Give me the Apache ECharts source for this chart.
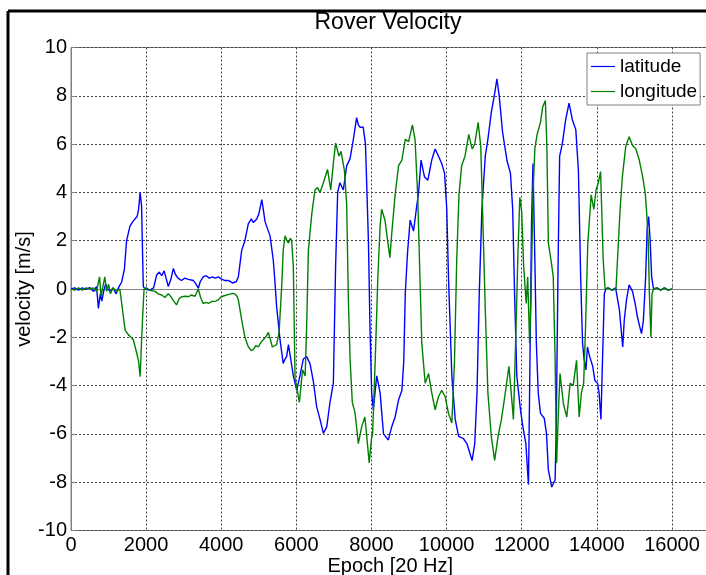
<!DOCTYPE html>
<html>
<head>
<meta charset="utf-8">
<script src="https://cdn.jsdelivr.net/npm/echarts@6/dist/echarts.min.js"></script>
<style>html,body{margin:0;padding:0;background:#fff;}#c{width:706px;height:575px;}</style>
</head>
<body>
<div id="c"></div>
<script>
var xTicks = [0, 2000, 4000, 6000, 8000, 10000, 12000, 14000, 16000];
var yTicks = [-10, -8, -6, -4, -2, 0, 2, 4, 6, 8, 10];
var seriesNames = ['latitude', 'longitude'];

var latX = [0,100,200,300,400,500,600,680,730,780,820,870,920,980,1050,1120,1200,1280,1350,1420,1480,1570,1650,1700,1760,1800,1840,1880,1905,1925,1980,2100,2200,2280,2350,2415,2480,2540,2590,2660,2725,2780,2850,2940,3030,3125,3260,3330,3390,3440,3520,3600,3680,3760,3840,3920,4000,4100,4200,4300,4400,4455,4545,4630,4720,4800,4855,4945,5000,5080,5120,5165,5230,5300,5385,5430,5475,5565,5650,5700,5740,5790,5830,5920,6010,6095,6185,6275,6365,6450,6540,6630,6720,6810,6895,6985,7045,7100,7160,7250,7340,7430,7515,7605,7650,7695,7780,7840,7880,7920,7960,8005,8050,8140,8230,8320,8450,8540,8630,8720,8810,8860,8900,8960,9030,9120,9210,9250,9320,9410,9500,9605,9695,9785,9870,9945,10005,10050,10140,10230,10320,10450,10540,10680,10750,10810,10870,10940,11030,11100,11190,11280,11340,11400,11490,11610,11700,11760,11810,11870,11960,12020,12110,12180,12210,12260,12300,12350,12390,12440,12500,12600,12660,12710,12800,12890,12920,12970,13010,13080,13170,13260,13350,13440,13510,13570,13620,13660,13710,13750,13810,13890,13950,14020,14060,14110,14150,14200,14240,14300,14400,14500,14550,14600,14640,14690,14730,14790,14860,14950,15020,15080,15140,15190,15240,15300,15340,15380,15420,15460,15510,15600,15700,15800,15900,16000];
var latY = [0,0.05,-0.05,0.05,-0.02,0.06,-0.1,0.1,-0.8,-0.2,-0.5,-0.1,0.2,0,-0.1,0.05,-0.2,0.1,0.3,0.8,2.0,2.6,2.8,2.85,3.0,3.3,4.0,3.4,1.5,0.1,0,-0.05,0.05,0.58,0.7,0.55,0.75,0.4,0.1,0.4,0.85,0.6,0.45,0.35,0.45,0.4,0.35,0.2,0.03,0.3,0.5,0.55,0.45,0.5,0.45,0.5,0.42,0.35,0.35,0.25,0.3,0.5,1.6,2.0,2.7,2.9,2.75,2.9,3.1,3.7,3.3,2.8,2.5,2.2,1.2,0.3,-0.73,-2.1,-3.08,-2.9,-2.8,-2.3,-2.3,-3.6,-4.2,-3.6,-2.9,-2.8,-3.1,-3.8,-4.87,-5.4,-5.98,-5.7,-4.7,-3.9,0.93,4.0,4.4,4.1,5.1,5.4,6.17,7.1,6.8,6.7,6.7,6.0,4.0,1.9,-1.56,-4.3,-5.0,-3.6,-4.3,-6.0,-6.25,-5.7,-5.3,-4.6,-4.2,-3.0,-0.2,1.5,2.85,2.4,3.5,3.9,5.34,4.65,4.5,5.34,5.8,5.5,5.2,4.8,3.3,0.5,-3.6,-5.4,-6.1,-6.2,-6.4,-7.1,-6.4,-4.3,-0.2,3.3,5.5,6.2,7.3,8.1,8.7,8.0,6.5,5.3,4.8,3.3,-0.2,-3.6,-4.9,-5.6,-6.4,-8.1,-4.3,2.6,5.2,1.2,-2.25,-4.3,-5.15,-5.35,-6.0,-7.5,-8.2,-7.9,-5.7,1.2,5.5,6.0,7.0,7.7,7.0,6.6,4.9,0.5,-2.25,-2.9,-3.35,-2.4,-2.8,-3.2,-3.8,-3.9,-4.3,-5.4,-3.0,-0.2,0,0.05,-0.05,0.05,0,-0.85,-1.55,-2.4,-1.3,-0.45,0.17,-0.1,-0.6,-1.15,-1.55,-1.85,-1.3,0.5,2.5,3.0,2.0,0.5,0,0.05,-0.05,0.05,-0.05,0];

var lonX = [0,100,200,300,400,500,600,680,760,800,850,900,950,1000,1050,1120,1200,1300,1350,1440,1530,1600,1660,1750,1800,1840,1900,1945,2000,2100,2240,2320,2415,2500,2590,2650,2715,2810,2880,2950,3050,3125,3200,3300,3390,3450,3520,3600,3660,3740,3850,3920,4000,4100,4200,4300,4360,4420,4455,4545,4630,4720,4800,4855,4920,4990,5060,5120,5200,5255,5310,5360,5420,5475,5540,5610,5650,5700,5750,5790,5840,5875,5920,5965,6025,6080,6165,6235,6280,6320,6410,6495,6560,6630,6720,6830,6915,6985,7045,7135,7190,7280,7340,7385,7430,7490,7560,7650,7740,7825,7940,8000,8030,8100,8170,8230,8270,8360,8430,8490,8540,8630,8720,8810,8900,8990,9090,9160,9230,9290,9340,9430,9520,9605,9695,9785,9870,9960,10050,10140,10210,10270,10330,10400,10490,10590,10680,10750,10840,10910,10970,11030,11100,11190,11280,11370,11460,11550,11660,11720,11780,11850,11900,11950,12000,12050,12120,12160,12210,12250,12300,12350,12410,12500,12560,12630,12670,12710,12780,12840,12890,12930,12980,13020,13110,13200,13290,13370,13460,13530,13590,13650,13700,13760,13850,13920,13980,14040,14100,14130,14170,14220,14300,14400,14510,14550,14620,14680,14770,14860,14950,15040,15130,15220,15290,15330,15370,15400,15440,15470,15510,15600,15700,15800,15900,16000];
var lonY = [0,-0.05,0.05,-0.05,0.05,0,0.05,-0.1,0.5,-0.3,0.1,0.5,-0.1,0.2,-0.2,0.05,-0.1,0,-0.6,-1.7,-1.9,-2.0,-2.1,-2.66,-3.0,-3.63,-1.4,0,0.05,-0.05,-0.1,-0.2,-0.25,-0.35,-0.2,-0.3,-0.46,-0.66,-0.4,-0.32,-0.3,-0.32,-0.25,-0.3,0,-0.35,-0.6,-0.55,-0.6,-0.52,-0.5,-0.45,-0.32,-0.27,-0.22,-0.18,-0.2,-0.3,-0.45,-1.28,-2.0,-2.39,-2.55,-2.5,-2.35,-2.4,-2.2,-2.1,-1.95,-1.8,-2.1,-2.4,-2.35,-2.3,-1.8,0.1,1.6,2.2,2.0,1.9,2.1,2.0,0.9,-3.7,-4.2,-4.7,-3.35,-3.6,-1.2,1.6,3.1,4.1,4.2,4.0,4.4,4.95,4.1,5.2,6.04,5.5,5.7,4.9,3.5,-0.45,-2.9,-4.7,-5.1,-6.4,-5.7,-5.3,-7.2,-6.2,-6.0,-2.95,0.5,2.6,3.3,2.85,2.0,1.3,2.3,3.9,5.1,5.34,6.2,6.1,6.8,6.2,3.9,0.5,-2.25,-3.9,-3.5,-4.3,-5.0,-4.45,-4.2,-4.45,-5.15,-5.55,-3.0,1.2,3.9,5.1,5.5,6.4,5.8,6.0,6.9,5.9,2.6,-0.85,-4.3,-6.1,-7.1,-6.1,-5.4,-4.45,-3.2,-4.3,-5.4,-1.5,1.5,3.8,3.2,1.0,-0.6,0.5,-2.25,-0.2,3.9,5.8,6.4,6.9,7.55,7.8,5.9,1.9,1.2,0.5,-2.95,-7.2,-5.0,-3.5,-4.75,-5.3,-3.9,-4.0,-2.95,-5.3,-4.3,-3.9,-1.55,1.9,3.9,3.3,4.1,4.4,4.86,3.3,1.2,0,0.05,-0.05,0,1.2,3.3,4.65,5.9,6.3,5.95,5.8,5.34,4.65,3.95,3.1,1.9,-0.2,-2.0,-0.2,0,0.05,-0.05,0.05,-0.05,0];

function pairs(xs, ys) { var out = []; for (var i = 0; i < xs.length; i++) out.push([xs[i], ys[i]]); return out; }

var FONT = 'Liberation Sans, Arial, Helvetica, sans-serif';
var chart = echarts.init(document.getElementById('c'), null, {renderer: 'canvas'});
var gridLeft = 71, gridTop = 47.5, gridW = 638.5, gridH = 483;
chart.setOption({
  animation: false,
  backgroundColor: '#fff',
  grid: {left: gridLeft, top: gridTop, width: gridW, height: gridH, containLabel: false, outerBoundsMode: 'none',
    show: true, borderColor: '#808080', borderWidth: 1, backgroundColor: '#fff'},
  graphic: [
    {type: 'line', shape: {x1: 8, y1: 11, x2: 8, y2: 575}, style: {stroke: '#000', lineWidth: 3}},
    {type: 'line', shape: {x1: 8, y1: 11, x2: 706, y2: 11}, style: {stroke: '#000', lineWidth: 3}},
    {type: 'text', x: 388, y: 23, style: {text: 'Rover Velocity', textAlign: 'center', textVerticalAlign: 'middle', verticalAlign: 'middle', font: '23px ' + FONT, fill: '#000'}}
  ],
  legend: {
    orient: 'vertical', left: 587, top: 53,
    backgroundColor: '#fff', borderColor: '#808080', borderWidth: 1, borderRadius: 0,
    padding: [4, 3, 4, 4], itemGap: 6, itemWidth: 24, itemHeight: 1.2, icon: 'rect',
    textStyle: {fontSize: 19, color: '#000', fontFamily: FONT},
    data: seriesNames
  },
  xAxis: {
    type: 'value', min: 0, max: 17000, interval: 2000,
    name: 'Epoch [20 Hz]', nameLocation: 'middle', nameGap: 26, nameMoveOverlap: false,
    nameTextStyle: {fontSize: 20, color: '#000', fontFamily: FONT},
    axisLine: {show: true, lineStyle: {color: '#808080', width: 1}},
    axisTick: {show: true, inside: true, length: 5, lineStyle: {color: '#808080'}},
    axisLabel: {fontSize: 20, color: '#000', fontFamily: FONT, margin: 5, showMaxLabel: false, hideOverlap: false,
      formatter: function (v) { return xTicks.indexOf(v) >= 0 ? String(v) : ''; }},
    splitLine: {show: true, lineStyle: {color: '#444', type: [2, 2], width: 1}}
  },
  yAxis: {
    type: 'value', min: -10, max: 10, interval: 2,
    name: 'velocity [m/s]', nameLocation: 'middle', nameGap: 37, nameMoveOverlap: false,
    nameTextStyle: {fontSize: 20, color: '#000', fontFamily: FONT},
    axisLine: {show: true, lineStyle: {color: '#808080', width: 1}},
    axisTick: {show: true, inside: true, length: 5, lineStyle: {color: '#808080'}},
    axisLabel: {fontSize: 20, color: '#000', fontFamily: FONT, margin: 4, hideOverlap: false,
      formatter: function (v) { return yTicks.indexOf(v) >= 0 ? String(v) : ''; }},
    splitLine: {show: true, lineStyle: {color: '#444', type: [2, 2], width: 1}}
  },
  series: [
    {name: seriesNames[0], type: 'line', data: pairs(latX, latY), symbol: 'none', showSymbol: false,
      lineStyle: {color: '#0000ff', width: 1.4}, itemStyle: {color: '#0000ff'}},
    {name: seriesNames[1], type: 'line', data: pairs(lonX, lonY), symbol: 'none', showSymbol: false,
      lineStyle: {color: '#008000', width: 1.4}, itemStyle: {color: '#008000'}}
  ]
});
</script>
</body>
</html>
